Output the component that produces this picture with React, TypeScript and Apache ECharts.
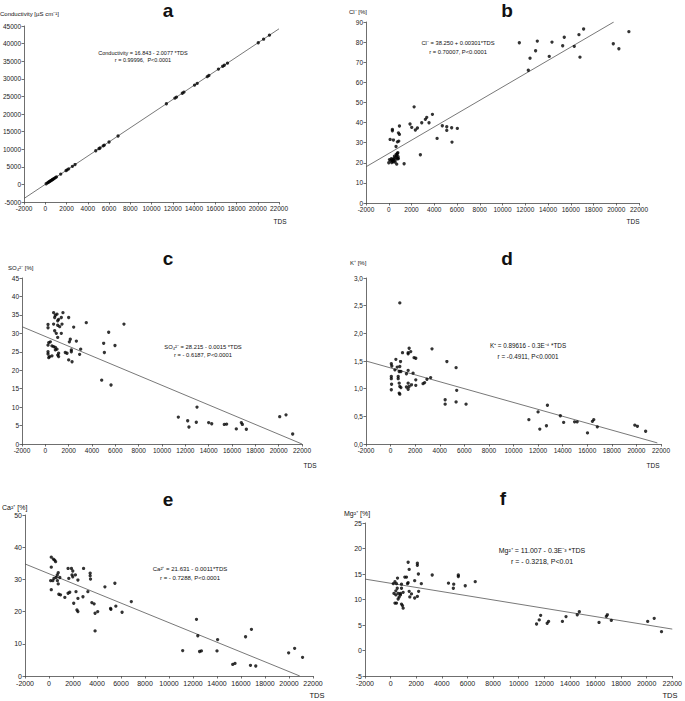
import React, { useEffect, useRef } from "react";
import * as echarts from "echarts";

const FONT = "'Liberation Sans', Arial, Helvetica, sans-serif";

// ---- Panel a: Conductivity vs TDS ----
const aTDS = [80, 200, 300, 380, 450, 520, 600, 680, 760, 850, 950, 1050, 1450, 1950, 2050, 2200, 2550, 2800, 4750, 5050, 5150, 5450, 5550, 6000, 6850, 11400, 12200, 12350, 12900, 13050, 14050, 14300, 15250, 15400, 16300, 16700, 16850, 17150, 20050, 20550, 21100];
const aCond = [180, 420, 620, 780, 920, 1060, 1220, 1380, 1540, 1720, 1920, 2120, 2930, 3930, 4130, 4430, 5140, 5640, 9550, 10150, 10350, 10950, 11150, 12050, 13750, 22900, 24500, 24800, 25900, 26200, 28200, 28700, 30600, 30950, 32750, 33550, 33850, 34450, 40250, 41250, 42400];
const aFit = [[-2000, -4000], [22000, 44200]];

// ---- Panel b: Cl- ----
const bTDS = [11480, 12270, 12420, 12910, 13060, 14110, 14350, 15290, 15430, 16310, 16720, 16810, 17130, 19740, 20230, 21110,
  2230, 1870, 2020, 2340, 2520, 2900, 3220, 3340, 3540, 3840, 4250, 4710, 5100, 5100, 5530, 5560, 6030, 2780, 1350,
  940, 850, 940, 760, 880, 640, 320, 320, 120, 410,
  0, 60, 180, 260, 350, 410, 470, 560, 500, 640, 700, 760, 820, 700, 560, 850, 230, 300, 400, 760, 650, 800];
const bCl = [79.7, 66.0, 72.0, 75.7, 80.5, 72.9, 80.0, 78.2, 82.4, 77.9, 83.7, 72.5, 86.5, 79.2, 76.7, 85.2,
  47.8, 39.3, 37.6, 36.3, 37.3, 39.9, 41.6, 42.6, 39.9, 44.1, 32.1, 38.4, 37.9, 36.1, 37.4, 30.3, 37.1, 24.0, 19.5,
  38.3, 34.9, 34.1, 30.4, 30.8, 28.1, 36.6, 35.9, 31.6, 31.3,
  20.0, 21.6, 21.0, 20.1, 20.8, 21.6, 22.3, 21.3, 23.3, 22.6, 23.6, 24.6, 23.0, 19.3, 20.3, 22.1, 22.0, 21.5, 20.5, 22.0, 24.2, 25.0];
const bFit = [[-2000, 18], [19780, 90]];

// ---- Panel c: SO4 2- ----
const cTDS = [11400, 12200, 12310, 13000, 12940, 14000, 14260, 15340, 15540, 16370, 16800, 16890, 17230, 20090, 20630, 21200,
  3510, 4830, 5000, 5060, 5430, 5630, 5970, 6740, 2660, 2430, 2940, 3030, 2000, 2290, 2000, 2060, 2140, 2230, 2230, 1710, 1860,
  710, 860, 1000, 800, 1140, 1060, 1370, 1510, 1430, 1230, 1060, 710, 800, 940, 1370, 230, 230, 1060,
  290, 430, 230, 570, 710, 860, 1000, 230, 230, 370, 570, 1140, 1140, 1060, 290, 860];
const cSO4 = [7.3, 6.3, 4.6, 10.0, 5.9, 5.8, 5.5, 5.3, 5.4, 4.1, 5.8, 5.3, 4.0, 7.4, 7.9, 2.7,
  32.9, 17.3, 27.3, 24.8, 30.3, 16.0, 26.7, 32.5, 27.9, 31.7, 24.3, 25.7, 22.8, 22.3, 34.3, 27.7, 28.4, 25.5, 25.0, 24.8, 24.6,
  35.6, 34.9, 35.2, 34.3, 33.8, 33.4, 34.3, 35.6, 32.5, 31.8, 32.2, 32.5, 30.7, 30.0, 30.0, 32.4, 31.5, 28.9,
  27.5, 27.7, 26.8, 26.6, 26.4, 26.2, 25.7, 25.0, 24.4, 23.7, 23.9, 24.6, 23.7, 24.1, 23.4, 25.5];
const cFit = [[-2000, 31.8], [22000, 0]];

// ---- Panel d: K+ ----
const dTDS = [750, 1640, 1510, 1430, 1430, 1910, 2050, 3370, 4580, 5330, 5380, 5330, 4440, 4440, 6140, 2770, 2960, 3260, 2640, 2050, 1830, 2050, 1700, 1510, 1430, 1290, 1430, 1290, 1430,
  60, 100, 60, 60, 80, 60, 430, 540, 350, 750, 700, 840, 810, 620, 620, 700, 750, 840, 700, 750, 970,
  11250, 12000, 12140, 12760, 12680, 13810, 14080, 14970, 15180, 16020, 16420, 16530, 16820, 19870, 20080, 20750];
const dK = [2.55, 1.67, 1.73, 1.65, 1.63, 1.56, 1.55, 1.72, 1.49, 1.38, 0.97, 0.76, 0.80, 0.72, 0.72, 1.11, 1.17, 1.20, 1.09, 1.16, 1.28, 1.06, 1.07, 1.04, 0.99, 1.03, 1.10, 1.27, 1.33,
  1.45, 1.41, 1.22, 1.18, 1.08, 0.98, 1.53, 1.39, 1.34, 1.40, 1.31, 1.31, 1.49, 1.22, 1.18, 1.10, 1.04, 1.02, 0.92, 0.90, 1.65,
  0.44, 0.58, 0.27, 0.70, 0.33, 0.51, 0.39, 0.40, 0.40, 0.20, 0.41, 0.44, 0.31, 0.34, 0.32, 0.23];
const dFit = [[-2000, 1.5], [21700, 0.02]];

// ---- Panel e: Ca2+ ----
const eTDS = [11140, 12290, 12400, 12550, 12700, 14000, 14050, 15310, 15500, 16380, 16790, 16870, 17230, 19970, 20470, 21130,
  190, 190, 140, 190, 360, 470, 550, 410, 320, 600, 690, 770, 770, 700, 820, 960, 900, 1320, 1590, 1650, 1590, 1730, 1870, 1980, 1920, 1980, 2060, 2200, 2250, 2330, 2410, 2410, 2410,
  2880, 2830, 3240, 3430, 3430, 3460, 3570, 3760, 3840, 3840, 4060, 4660, 5130, 5160, 5490, 5570, 6090, 6860];
const eCa = [7.9, 17.6, 12.5, 7.6, 7.8, 7.8, 11.3, 3.6, 3.9, 12.2, 3.3, 14.5, 3.1, 7.2, 8.6, 5.8,
  36.9, 33.8, 29.6, 26.8, 36.3, 36.0, 35.5, 30.3, 29.6, 30.6, 31.4, 32.1, 28.6, 29.6, 25.4, 25.2, 30.6, 24.4, 33.4, 30.3, 25.7, 26.0, 33.4, 32.6, 31.4, 30.8, 22.6, 31.4, 26.2, 20.5, 20.0, 29.8, 24.1,
  33.4, 24.6, 26.2, 31.9, 31.1, 30.1, 22.8, 22.4, 19.5, 14.0, 20.0, 27.7, 21.0, 20.7, 28.8, 21.7, 19.8, 23.1];
const eFit = [[-2000, 34.8], [20900, 0]];

// ---- Panel f: Mg2+ ----
const fTDS = [11400, 11610, 11720, 12230, 12340, 13420, 13700, 14580, 14740, 16280, 16850, 16930, 17240, 20080, 20590, 21160,
  1370, 2090, 2090, 1450, 2170, 3250, 540, 1110, 1240, 5290, 5290, 4520, 4930, 4900, 5830, 6610, 2400, 1880, 1370, 1320,
  210, 340, 460, 520, 850, 850, 410, 260, 590, 770, 980, 1450, 1630, 2090, 2190, 1880, 1500, 770, 670, 590, 410, 340, 460, 850, 930, 980];
const fMg = [5.2, 6.0, 6.9, 5.35, 5.7, 5.7, 6.65, 7.0, 7.6, 5.5, 6.7, 7.0, 5.9, 5.7, 6.3, 3.7,
  17.3, 17.1, 16.7, 15.9, 15.0, 14.8, 14.2, 14.4, 14.4, 14.8, 14.5, 13.2, 13.0, 12.2, 12.7, 13.5, 13.1, 13.7, 13.3, 13.1,
  13.1, 13.5, 13.1, 12.2, 13.0, 12.2, 11.7, 11.2, 11.2, 11.2, 11.4, 11.6, 11.1, 10.6, 11.6, 10.3, 10.5, 10.9, 10.5, 10.1, 10.9, 9.3, 9.3, 9.1, 8.8, 8.3];
const fFit = [[-2000, 14.0], [22000, 4.2]];

const zip = (xs: number[], ys: number[]) => xs.map((x, i) => [x, ys[i]]);

const grids = [
  { left: 23, top: 26, width: 256, height: 176 },
  { left: 366, top: 22, width: 273, height: 181 },
  { left: 22, top: 278, width: 280, height: 166 },
  { left: 366, top: 278, width: 295, height: 166 },
  { left: 25, top: 515, width: 288, height: 161 },
  { left: 365, top: 523, width: 310, height: 153 },
];

const yRanges = [
  { min: -5000, max: 45000, interval: 5000 },
  { min: 0, max: 90, interval: 10 },
  { min: 0, max: 45, interval: 5 },
  { min: 0, max: 3, interval: 0.5 },
  { min: 0, max: 50, interval: 10 },
  { min: -5, max: 25, interval: 5 },
];
const labelSizes = [6.5, 6.5, 6.5, 6.5, 7, 7];

const scatterData = [zip(aTDS, aCond), zip(bTDS, bCl), zip(cTDS, cSO4), zip(dTDS, dK), zip(eTDS, eCa), zip(fTDS, fMg)];
const fitData = [aFit, bFit, cFit, dFit, eFit, fFit];

const AXIS_COLOR = "#4a4a4a";

function txt(text: string, x: number, y: number, size: number, align = "center", bold = false) {
  return {
    type: "text",
    x,
    y,
    silent: true,
    style: {
      text,
      fontSize: size,
      fontFamily: FONT,
      fontWeight: bold ? "bold" : "normal",
      fill: "#111",
      align,
      verticalAlign: "middle",
      textAlign: align,
      textVerticalAlign: "middle",
    },
  };
}

export default function App() {
  const ref = useRef<HTMLDivElement>(null);
  useEffect(() => {
    if (!ref.current) return;
    const chart = echarts.init(ref.current, undefined, { renderer: "svg" });
    const xAxis = grids.map((_, i) => ({
      type: "value",
      gridIndex: i,
      min: -2000,
      max: 22000,
      interval: 2000,
      axisLine: { show: true, onZero: false, lineStyle: { color: AXIS_COLOR, width: 0.8 } },
      axisTick: { show: true, length: 2.5, lineStyle: { color: AXIS_COLOR, width: 0.8 } },
      axisLabel: {
        fontSize: labelSizes[i],
        fontFamily: FONT,
        color: "#222",
        margin: i >= 4 ? 4 : 3,
        hideOverlap: false,
        formatter: (v: number) => String(v),
      },
      splitLine: { show: false },
    }));
    const yAxis = grids.map((_, i) => ({
      type: "value",
      gridIndex: i,
      ...yRanges[i],
      axisLine: { show: true, onZero: false, lineStyle: { color: AXIS_COLOR, width: 0.8 } },
      axisTick: { show: true, length: 2.5, lineStyle: { color: AXIS_COLOR, width: 0.8 } },
      axisLabel: {
        fontSize: labelSizes[i],
        fontFamily: FONT,
        color: "#222",
        margin: 3,
        formatter: i === 3 ? (v: number) => v.toFixed(1).replace(".", ",") : (v: number) => String(v),
      },
      splitLine: { show: false },
    }));
    const series: any[] = [];
    grids.forEach((_, i) => {
      series.push({
        type: "line",
        xAxisIndex: i,
        yAxisIndex: i,
        data: fitData[i],
        symbol: "none",
        silent: true,
        lineStyle: { color: "#555", width: 0.8 },
        z: 1,
      });
      series.push({
        type: "scatter",
        xAxisIndex: i,
        yAxisIndex: i,
        data: scatterData[i],
        symbolSize: 3.3,
        itemStyle: { color: "#000" },
        z: 2,
      });
    });
    const graphic = [
      txt("a", 168, 10, 19, "center", true),
      txt("b", 507, 10, 19, "center", true),
      txt("c", 168, 258, 19, "center", true),
      txt("d", 507, 258, 19, "center", true),
      txt("e", 168, 499, 19, "center", true),
      txt("f", 503, 498, 19, "center", true),
      txt("Conductivity [µS cm⁻¹]", 0, 14, 6, "left"),
      txt("Cl⁻ [%]", 349, 12, 6, "left"),
      txt("SO₄²⁻ [%]", 8, 268, 6, "left"),
      txt("K⁺ [%]", 350, 263, 6, "left"),
      txt("Ca²⁺ [%]", 2, 507, 7, "left"),
      txt("Mg²⁺ [%]", 344, 513, 7, "left"),
      txt("TDS", 280, 221, 6.5),
      txt("TDS", 633, 221, 6.5),
      txt("TDS", 310, 465, 6.5),
      txt("TDS", 653, 465, 6.5),
      txt("TDS", 317, 695, 7.5),
      txt("TDS", 670, 695, 7.5),
      txt("Conductivity = 16.843 - 2.0077 *TDS", 143, 53, 5.5),
      txt("r = 0.99996,  P<0.0001", 143, 60, 5.5),
      txt("Cl⁻ = 38.250 + 0.00301*TDS", 458, 43, 5.8),
      txt("r = 0.70007, P<0.0001", 458, 52, 5.8),
      txt("SO₄²⁻ = 28.215 - 0.0015 *TDS", 203, 347, 5.8),
      txt("r = - 0.6187, P<0.0001", 203, 355, 5.8),
      txt("K⁺ = 0.89616 - 0.3E⁻⁴ *TDS", 528, 345, 6.3),
      txt("r = -0.4911, P<0.0001", 528, 356, 6.3),
      txt("Ca²⁺ = 21.631 - 0.0011*TDS", 190, 569, 6),
      txt("r = - 0.7288, P<0.0001", 190, 578, 6),
      txt("Mg²⁺ = 11.007 - 0.3E⁻³ *TDS", 542, 550, 7),
      txt("r = - 0.3218, P<0.01", 542, 561, 7),
    ];
    chart.setOption({
      animation: false,
      backgroundColor: "#fff",
      textStyle: { fontFamily: FONT },
      grid: grids.map((g) => ({ ...g, containLabel: false })),
      xAxis,
      yAxis,
      series,
      graphic,
    } as any);
    return () => chart.dispose();
  }, []);
  return (
    <div
      ref={ref}
      style={{ position: "fixed", left: 0, top: 0, width: 685, height: 701, background: "#fff" }}
    />
  );
}
